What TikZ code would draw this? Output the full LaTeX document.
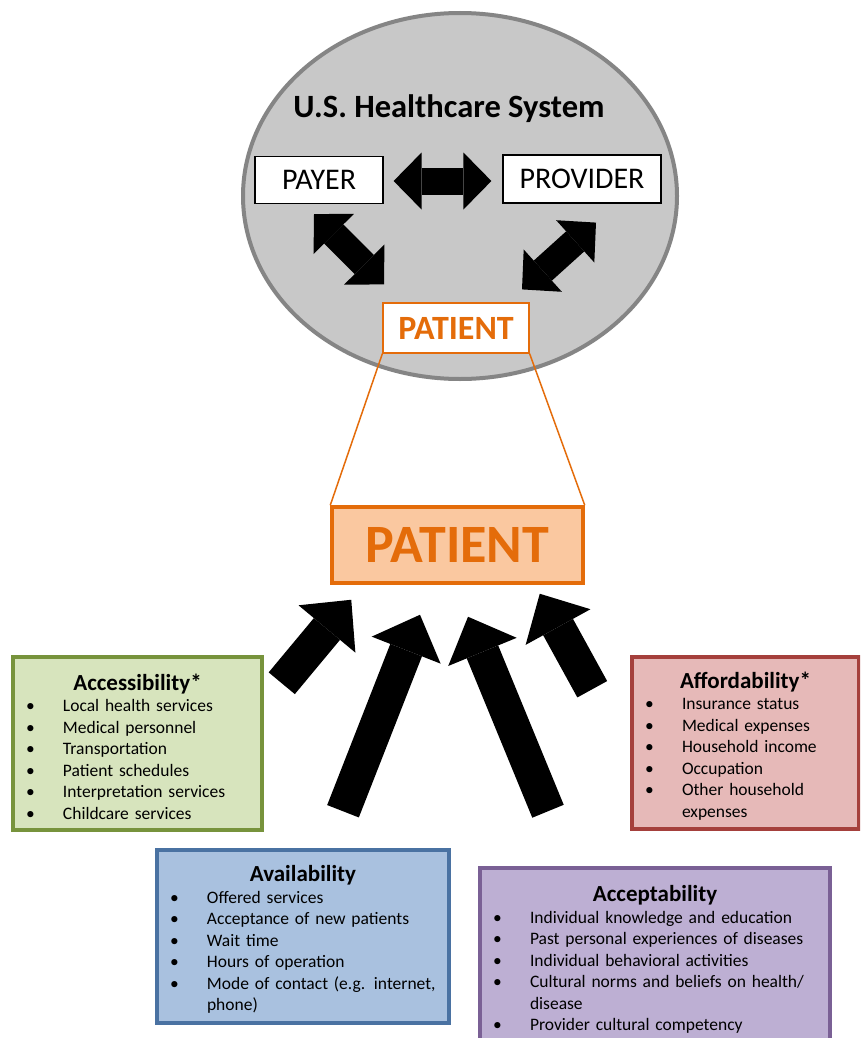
\documentclass[tikz,border=0pt]{standalone}
\usepackage{fontspec}
\setmainfont{Carlito}
\usetikzlibrary{arrows.meta}

\definecolor{sysgray}{HTML}{C8C8C8}
\definecolor{sysline}{HTML}{858585}
\definecolor{patorange}{HTML}{E46C0A}
\definecolor{patfill}{HTML}{FAC8A0}
\definecolor{accfill}{HTML}{D7E4BD}
\definecolor{accline}{HTML}{77933C}
\definecolor{affill}{HTML}{E6B9B8}
\definecolor{afline}{HTML}{A5403C}
\definecolor{avfill}{HTML}{A9C1DF}
\definecolor{avline}{HTML}{4A72A2}
\definecolor{acfill}{HTML}{BDAFD3}
\definecolor{acline}{HTML}{7A6095}

\newcommand{\boxhead}[1]{\vskip1pt{\centering\fontsize{23}{21.5}\selectfont\bfseries #1\par}}
\newcommand{\bitem}[1]{\noindent\hangindent=40pt\hangafter=1\makebox[40pt][l]{\hspace{3pt}\textbullet}#1\par}

\tikzset{
  sysbox/.style={draw=black, line width=1.2pt, fill=white, inner sep=0pt, font=\fontsize{30}{32}\selectfont},
  dblarrow/.style={line width=27pt, {Triangle[width=57pt,length=28pt,line width=0pt]}-{Triangle[width=57pt,length=28pt,line width=0pt]}},
  bigarrow/.style={line width=34pt, -{Triangle[width=74pt,length=38pt,line width=0pt]}},
  factor/.style={line width=3.5pt, inner xsep=10pt, inner ysep=0pt, text width=#1, align=left, font=\fontsize{17.5}{21.5}\selectfont},
}

\begin{document}
\begin{tikzpicture}[x=1pt, y=-1pt]
\fill[white] (0,0) rectangle (860,1038);
\clip (0,0) rectangle (860,1038);

% healthcare system
\draw[fill=sysgray, draw=sysline, line width=4pt] (460,196) ellipse [x radius=217, y radius=183];
\node[font=\fontsize{32.5}{34}\selectfont\bfseries] (title) at (449,109) {U.S. Healthcare System};
\node[sysbox, minimum width=128pt, minimum height=47pt] (payer) at (319,180) {PAYER};
\node[sysbox, minimum width=158pt, minimum height=48pt] (provider) at (582,179) {PROVIDER};
\node[sysbox, draw=patorange, text=patorange, font=\fontsize{34}{36}\selectfont\bfseries, minimum width=146pt, minimum height=50pt] (pat) at (456,328) {PATIENT};

\draw[dblarrow] ([shift={(10,1)}]payer.east) -- ([shift={(-11,2)}]provider.west);
\draw[dblarrow] ([shift={(-5,10)}]payer.south) -- ([shift={(-72,-18)}]pat.north);
\draw[dblarrow] ([shift={(14,19)}]provider.south) -- ([shift={(66,-13)}]pat.north);

% zoomed patient
\node[draw=patorange, fill=patfill, line width=3.5pt, minimum width=251pt, minimum height=76pt, text=patorange, font=\fontsize{54}{56}\selectfont\bfseries] (patient) at (457.5,545) {PATIENT};
\draw[patorange, line width=1.5pt] (pat.south west) -- (patient.north west);
\draw[patorange, line width=1.5pt] (pat.south east) -- (patient.north east);

% the four factors
\node[factor=229pt, fill=accfill, draw=accline, minimum height=173pt] (access) at (137.5,743.5) {%
  \boxhead{Accessibility*}
  \bitem{Local health services}
  \bitem{Medical personnel}
  \bitem{Transportation}
  \bitem{Patient schedules}
  \bitem{Interpretation services}
  \bitem{Childcare services}};
\node[factor=207pt, fill=affill, draw=afline, minimum height=172pt] (afford) at (745.5,743) {%
  \boxhead{Affordability*}
  \bitem{Insurance status}
  \bitem{Medical expenses}
  \bitem{Household income}
  \bitem{Occupation}
  \bitem{Other household\newline expenses}};
\node[factor=272pt, fill=avfill, draw=avline, minimum height=173pt] (avail) at (303,936.5) {%
  \boxhead{Availability}
  \bitem{Offered services}
  \bitem{Acceptance of new patients}
  \bitem{Wait time}
  \bitem{Hours of operation}
  \bitem{Mode of contact (e.g. internet,\newline phone)}};
\node[factor=330pt, fill=acfill, draw=acline, minimum height=177pt] (accept) at (655,956.5) {%
  \boxhead{Acceptability}
  \bitem{Individual knowledge and education}
  \bitem{Past personal experiences of diseases}
  \bitem{Individual behavioral activities}
  \bitem{Cultural norms and beliefs on health/\newline disease}
  \bitem{Provider cultural competency}};

\draw[bigarrow] ([shift={(18,28)}]access.north east) -- ([shift={(21,15)}]patient.south west);
\draw[bigarrow] ([shift={(40,-37)}]avail.north) -- ([shift={(-37.5,30)}]patient.south);
\draw[bigarrow] ([shift={(-107,-55)}]accept.north) -- ([shift={(10.5,32)}]patient.south);
\draw[bigarrow] ([shift={(-38,34)}]afford.north west) -- ([shift={(-45,9)}]patient.south east);
\end{tikzpicture}
\end{document}
